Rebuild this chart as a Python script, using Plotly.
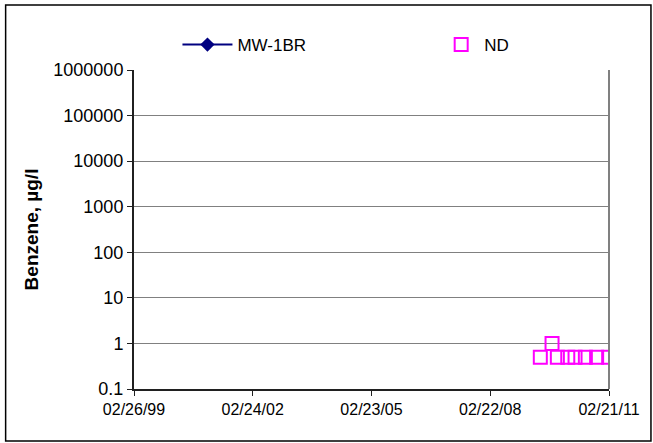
import plotly.graph_objects as go

# Sampling dates for well MW-1BR
sample_dates = ["2009-05-29", "2009-09-14", "2009-11-02", "2010-02-06",
                "2010-04-14", "2010-07-18", "2010-10-30", "2011-02-18"]
# Detected benzene (none detected in this period)
mw1br_values = [None, None, None, None, None, None, None, None]
# Non-detect reporting limits, ug/l
nd_values = [0.5, 1, 0.5, 0.5, 0.5, 0.5, 0.5, 0.5]

x_tick_dates = ["1999-02-26", "2002-02-24", "2005-02-23", "2008-02-22", "2011-02-21"]
x_tick_labels = ["02/26/99", "02/24/02", "02/23/05", "02/22/08", "02/21/11"]
y_tick_vals = [0.1, 1, 10, 100, 1000, 10000, 100000, 1000000]
y_tick_labels = ["0.1", "1", "10", "100", "1000", "10000", "100000", "1000000"]

W, H = 653, 443
L, R, T, B = 133.5, 44, 70, 54
pw, ph = W - L - R, H - T - B

def px_x(px):
    return (px - L) / pw

def px_y(py):
    return (H - B - py) / ph

FONT = "Liberation Sans, Arial, sans-serif"

fig = go.Figure()
fig.add_trace(go.Scatter(
    x=sample_dates, y=mw1br_values, name="MW-1BR", mode="lines+markers",
    line=dict(color="#000080", width=2),
    marker=dict(symbol="diamond", size=11, color="#000080"),
    legend="legend",
))
fig.add_trace(go.Scatter(
    x=sample_dates, y=nd_values, name="ND", mode="markers",
    marker=dict(symbol="square-open", size=13, color="#FF00FF",
                line=dict(color="#FF00FF", width=2)),
    legend="legend2",
))

fig.update_layout(
    width=W, height=H,
    margin=dict(l=L, r=R, t=T, b=B),
    paper_bgcolor="white", plot_bgcolor="white",
    font=dict(family=FONT, size=16, color="black"),
    showlegend=True,
    legend=dict(orientation="h", x=px_x(177), y=px_y(45),
                xanchor="left", yanchor="middle", itemwidth=50,
                font=dict(size=17), bgcolor="rgba(0,0,0,0)"),
    legend2=dict(orientation="h", x=px_x(438), y=px_y(45),
                 xanchor="left", yanchor="middle", itemwidth=36,
                 font=dict(size=17), bgcolor="rgba(0,0,0,0)"),
    xaxis=dict(
        type="date", range=[x_tick_dates[0], x_tick_dates[-1]],
        tickvals=x_tick_dates, ticktext=x_tick_labels,
        showgrid=False, zeroline=False,
        showline=True, linecolor="#202020", linewidth=2,
        ticks="outside", ticklen=5, tickcolor="#202020", tickwidth=1,
        tickfont=dict(size=16),
    ),
    yaxis=dict(
        type="log", range=[-1, 6],
        tickvals=y_tick_vals, ticktext=y_tick_labels,
        showgrid=True, gridcolor="#808080", gridwidth=1,
        zeroline=False,
        showline=True, linecolor="#202020", linewidth=2,
        ticks="outside", ticklen=5, tickcolor="#202020", tickwidth=1,
        tickfont=dict(size=18),
        title=dict(text="<b>Benzene, µg/l</b>", font=dict(size=19), standoff=10),
    ),
    shapes=[
        # right edge of plot area
        dict(type="line", xref="paper", yref="paper", x0=1, x1=1, y0=0, y1=1,
             line=dict(color="#808080", width=2)),
        # chart frame
        dict(type="rect", xref="paper", yref="paper",
             x0=px_x(5), x1=px_x(651), y0=px_y(441), y1=px_y(5),
             line=dict(color="black", width=1.5), layer="below"),
    ],
)

fig.write_html("out.html")
